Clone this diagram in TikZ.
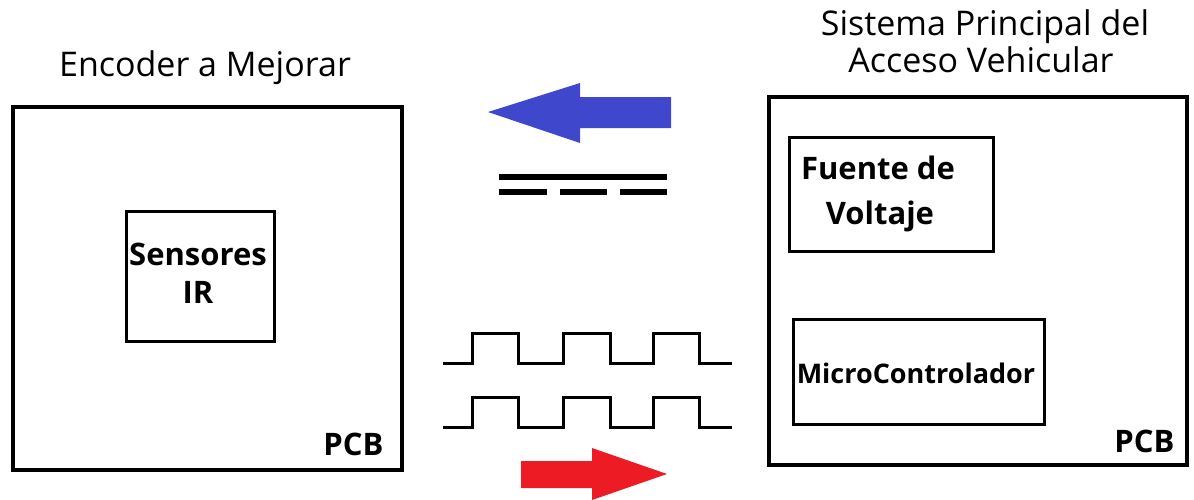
\documentclass[tikz,border=0pt]{standalone}
\usepackage{fontspec}
\setmainfont{Open Sans}
\definecolor{arrowblue}{HTML}{3F48CC}
\definecolor{arrowred}{HTML}{ED1C24}
\begin{document}
\begin{tikzpicture}[x=1pt,y=-1pt,
  outerbox/.style={draw=black,line width=4pt},
  innerbox/.style={draw=black,line width=2.5pt},
  wave/.style={draw=black,line width=3pt,line join=miter},
  bar/.style={draw=black,line width=6pt},
  title/.style={font=\fontsize{34}{40}\selectfont,anchor=base},
  boldlbl/.style={font=\bfseries\fontsize{31}{36}\selectfont,anchor=base},
  smalllbl/.style={font=\bfseries\fontsize{27}{32}\selectfont,anchor=base},
  pcblbl/.style={font=\bfseries\fontsize{31}{36}\selectfont,anchor=base east}]
\useasboundingbox (0,0) rectangle (1194,499);
% left block
\node[outerbox,minimum width=389pt,minimum height=363pt,anchor=north west,inner sep=0pt] (enc) at (11,105) {};
\node[innerbox,minimum width=148pt,minimum height=130pt,anchor=north west,inner sep=0pt] (ir) at (125,210) {};
\node[boldlbl] (irt1) at (198,265) {Sensores};
\node[boldlbl] (irt2) at (198,303) {IR};
\node[pcblbl] (pcb1) at (387,455) {PCB};
\node[title] (t1) at (205,76) {Encoder a Mejorar};
% right block
\node[outerbox,minimum width=418pt,minimum height=368pt,anchor=north west,inner sep=0pt] (sys) at (767,95) {};
\node[innerbox,minimum width=204pt,minimum height=114pt,anchor=north west,inner sep=0pt] (fv) at (788,136) {};
\node[boldlbl] (fvt1) at (878,179) {Fuente de};
\node[boldlbl] (fvt2) at (880,224) {Voltaje};
\node[innerbox,minimum width=251pt,minimum height=105pt,anchor=north west,inner sep=0pt] (mc) at (792,318) {};
\node[smalllbl] (mct) at (916,383) {MicroControlador};
\node[pcblbl] (pcb2) at (1178,452) {PCB};
\node[title] (t2a) at (985,35) {Sistema Principal del};
\node[title] (t2b) at (981,72) {Acceso Vehicular};
% blue arrow
\fill[arrowblue] (671,97) -- (580,97) -- (580,83) -- (488,112) -- (580,143) -- (580,128) -- (671,128) -- cycle;
% DC symbol
\draw[bar] (499,177) -- (667,177);
\draw[bar] (499,192) -- (547,192);
\draw[bar] (560,192) -- (607,192);
\draw[bar] (620,192) -- (667,192);
% square waves
\draw[wave] (443,363) -- (472,363) -- (472,333) -- (518,333) -- (518,363) -- (563,363) -- (563,333) -- (610,333) -- (610,363) -- (653,363) -- (653,333) -- (699,333) -- (699,363) -- (732,363);
\draw[wave] (443,427) -- (472,427) -- (472,397) -- (518,397) -- (518,427) -- (563,427) -- (563,397) -- (610,397) -- (610,427) -- (653,427) -- (653,397) -- (699,397) -- (699,427) -- (732,427);
% red arrow
\fill[arrowred] (521,461) -- (592,461) -- (592,448) -- (667,474) -- (592,500) -- (592,488) -- (521,488) -- cycle;
\end{tikzpicture}
\end{document}
